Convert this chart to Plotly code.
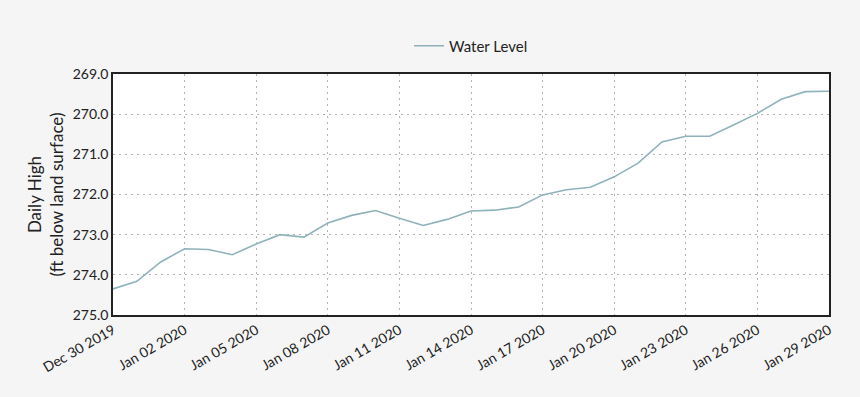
import plotly.graph_objects as go
import pandas as pd

dates = pd.date_range("2019-12-30", "2020-01-29", freq="D")
water_level = [274.35, 274.16, 273.68, 273.35, 273.37, 273.50, 273.23, 273.00, 273.06,
               272.71, 272.52, 272.40, 272.59, 272.77, 272.62, 272.41, 272.39, 272.31,
               272.01, 271.88, 271.82, 271.56, 271.22, 270.69, 270.55, 270.55, 270.27,
               269.98, 269.63, 269.44, 269.43]
y_ticks = [269.0, 270.0, 271.0, 272.0, 273.0, 274.0, 275.0]

font_family = "Lato, Open Sans, sans-serif"

fig = go.Figure()
fig.add_trace(go.Scatter(x=dates, y=water_level, mode="lines", name="Water Level",
                         line=dict(color="#8fb2ba", width=1.6)))

grid = dict(showgrid=True, gridcolor="#b4b4b4", griddash="2px,4px", gridwidth=1)

fig.update_layout(
    width=860, height=397,
    paper_bgcolor="#f5f5f5", plot_bgcolor="white",
    margin=dict(l=113, r=31, t=74, b=82, autoexpand=False),
    font=dict(family=font_family, color="#222", size=14),
    showlegend=True,
    legend=dict(orientation="h", x=0.5, xanchor="center", y=1.116, yanchor="middle",
                bgcolor="rgba(0,0,0,0)", font=dict(size=15)),
    xaxis=dict(range=[dates[0], dates[-1]], tick0=dates[0], dtick=3 * 86400000,
               tickformat="%b %d %Y", tickangle=-30, automargin=False,
               showline=True, linecolor="#222", linewidth=1.5, mirror=True,
               ticks="", tickfont=dict(size=14), zeroline=False, **grid),
    yaxis=dict(range=[275, 269], tickvals=y_ticks, tickformat=".1f", automargin=False,
               showline=True, linecolor="#222", linewidth=1.5, mirror=True,
               ticks="", tickfont=dict(size=14), zeroline=False,
               title=dict(text="Daily High<br>(ft below land surface)", font=dict(size=17),
                          standoff=5), **grid),
)

fig.write_html("out.html", config={"displayModeBar": False},
               post_script="document.body.style.margin='0';document.body.style.padding='0';")
